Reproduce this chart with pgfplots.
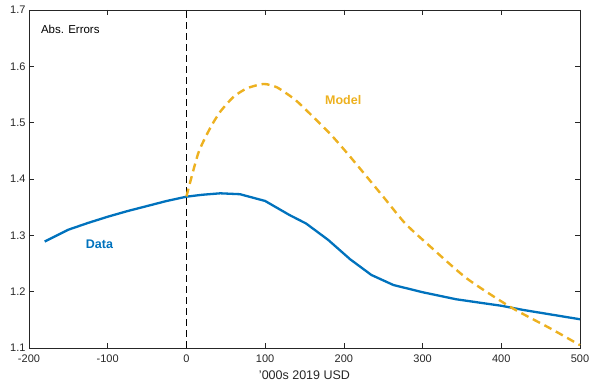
\documentclass[border=0pt]{standalone}
\usepackage{pgfplots}
\pgfplotsset{compat=1.18}
\usepackage{fontspec}
\setmainfont{Liberation Sans}
\definecolor{mblue}{rgb}{0,0.447,0.741}
\definecolor{myellow}{rgb}{0.929,0.694,0.125}
\definecolor{axgray}{rgb}{0.15,0.15,0.15}
\begin{document}
\begin{tikzpicture}
\useasboundingbox (-29pt,-34pt) rectangle (561pt,348pt);
\begin{axis}[
  scale only axis,
  width=551pt, height=338pt,
  xmin=-200, xmax=500, ymin=1.1, ymax=1.7,
  xtick={-200,-100,0,100,200,300,400,500},
  ytick={1.1,1.2,1.3,1.4,1.5,1.6,1.7},
  tick align=inside,
  major tick length=5pt,
  axis line style={axgray, line width=0.8pt},
  every tick/.style={axgray, line width=0.6pt},
  tick label style={font=\fontsize{11}{13}\selectfont, text=axgray},
  /pgf/number format/assume math mode=true,
  yticklabel style={/pgf/number format/.cd, fixed, fixed zerofill, precision=1},
  xticklabel style={/pgf/number format/.cd, fixed, /tikz/.cd, yshift=-3.5pt},
  xlabel={'000s 2019 USD},
  xlabel style={font=\fontsize{12.5}{14}\selectfont, text=axgray, yshift=-1.5pt},
  clip=false,
]
\addplot[black, line width=0.9pt, dash pattern=on 7pt off 4pt] coordinates {(0,1.1) (0,1.7)};
\addplot[mblue, line width=2.3pt] coordinates {
(-180,1.289) (-150,1.310) (-125,1.322) (-100,1.333) (-75,1.343) (-50,1.352) (-25,1.361) (0,1.3686)
(20,1.372) (43,1.3746) (68,1.373) (100,1.361) (131,1.336) (152,1.321) (180,1.292) (208,1.2575)
(235,1.2296) (263,1.2118) (300,1.199) (343,1.1864) (400,1.175) (428,1.1675) (500,1.151)};
\addplot[myellow, line width=2.4pt, dash pattern=on 8pt off 5pt, smooth, tension=0.4] coordinates {
(0,1.369) (15,1.4456) (30,1.49) (43,1.5195) (60,1.546) (77,1.561) (98,1.5687) (115,1.5627)
(136,1.543) (148,1.528) (182,1.481) (208,1.4396) (250,1.3686) (278,1.321) (310,1.2798)
(356,1.2237) (411,1.1733) (462,1.135) (500,1.105)};
\node[anchor=west, inner sep=0pt, font=\fontsize{11.5}{13}\selectfont] at (axis cs:-185,1.666) {Abs. Errors};
\node[anchor=west, inner sep=0pt, font=\bfseries\fontsize{12.5}{14}\selectfont, text=myellow] at (axis cs:176,1.540) {Model};
\node[anchor=west, inner sep=0pt, font=\bfseries\fontsize{12.5}{14}\selectfont, text=mblue] at (axis cs:-128,1.284) {Data};
\end{axis}
\end{tikzpicture}
\end{document}
